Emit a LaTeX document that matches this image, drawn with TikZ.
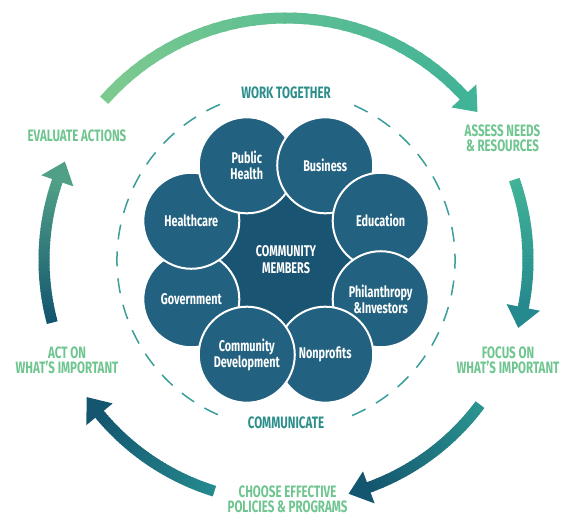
\documentclass[tikz,border=0pt]{standalone}
\usepackage{fontspec}
\setmainfont[FakeStretch=0.7]{Fira Sans}

\definecolor{labelgreen}{HTML}{6FC58F}
\definecolor{linkteal}{HTML}{2B8E8B}
\definecolor{ringteal}{HTML}{3A9E9B}
\definecolor{bubbleblue}{HTML}{22617F}
\definecolor{coreblue}{HTML}{1A5473}
\definecolor{arrowlight}{HTML}{7DCA8F}
\definecolor{arrowmint}{HTML}{41B397}
\definecolor{arrowsea}{HTML}{2B9490}
\definecolor{arrowteal}{HTML}{25898E}
\definecolor{arrowdark}{HTML}{14566F}
\definecolor{arrowsage}{HTML}{50A088}

% tail angle, base angle, tip angle, tail colour, head colour
\newcommand\cyclearrow[5]{%
  \foreach \k in {0,...,39}{
    \pgfmathsetmacro\a{#1+(#2-#1)*\k/40}
    \pgfmathsetmacro\b{#1+(#2-#1)*(\k+1.3)/40}
    \pgfmathtruncatemacro\p{100*\k/39}
    \draw[line width=11pt, #5!\p!#4] (\a:242) arc[start angle=\a, end angle=\b, radius=242];
  }
  \fill[#5] (#2:259) -- (#3:242) -- (#2:225) -- cycle;
}

\begin{document}
\begin{tikzpicture}[x=1pt, y=1pt,
  bubble/.style={circle, draw=white, line width=2pt, fill=bubbleblue, minimum size=96pt,
    inner sep=0pt, align=center, text=white, font=\bfseries\fontsize{15.5}{16}\selectfont},
  stagelabel/.style={align=center, text=labelgreen, font=\bfseries\fontsize{16.5}{15}\selectfont},
  ringlabel/.style={text=linkteal, font=\bfseries\fontsize{16.5}{15}\selectfont},
  ring/.style={draw=ringteal, line width=1.5pt, dash pattern=on 15pt off 12pt}]

\useasboundingbox (-286,-257) rectangle (276,260);

\fill[coreblue] (0,0) circle (72);

\node[bubble] (gov) at (-157.5:102.5) {Government};
\node[bubble] (care) at (157.5:102.5) {Healthcare};
\node[bubble] (health) at (112.5:102.5) {Public\\Health};
\node[bubble] (business) at (67.5:102.5) {Business};
\node[bubble] (edu) at (22.5:102.5) {Education};
\node[bubble] (phil) at (-22.5:102.5) {Philanthropy\\\&Investors};
\node[bubble] (nonprofit) at (-67.5:102.5) {Nonprofits};
\node[bubble] (develop) at (-112.5:102.5) {Community\\Development};
\node[align=center, text=white, font=\bfseries\fontsize{15.5}{17}\selectfont] (core) at (0,0) {COMMUNITY\\MEMBERS};

\draw[ring] (113:169) arc[start angle=113, end angle=247, radius=169];
\draw[ring] (-67:169) arc[start angle=-67, end angle=67, radius=169];
\node[ringlabel] (work) at (0,167) {WORK TOGETHER};
\node[ringlabel] (talk) at (0,-163) {COMMUNICATE};

\node[stagelabel] (evaluate) at (-209,124) {EVALUATE ACTIONS};
\node[stagelabel] (assess) at (216.5,121.5) {ASSESS NEEDS\\\& RESOURCES};
\node[stagelabel] (focus) at (222,-100) {FOCUS ON\\WHAT’S IMPORTANT};
\node[stagelabel] (choose) at (1.5,-239.5) {CHOOSE EFFECTIVE\\POLICIES \& PROGRAMS};
\node[stagelabel] (act) at (-219,-100.5) {ACT ON\\WHAT’S IMPORTANT};

\cyclearrow{138.7}{42.7}{37.7}{arrowlight}{arrowmint}
\cyclearrow{19.4}{-11.3}{-16.3}{arrowmint}{arrowteal}
\cyclearrow{-36.7}{-70}{-75}{arrowsea}{arrowdark}
\cyclearrow{-107.2}{-140.4}{-145.5}{arrowteal}{arrowdark}
\cyclearrow{195}{160.9}{156}{arrowdark}{arrowsage}

\end{tikzpicture}
\end{document}
